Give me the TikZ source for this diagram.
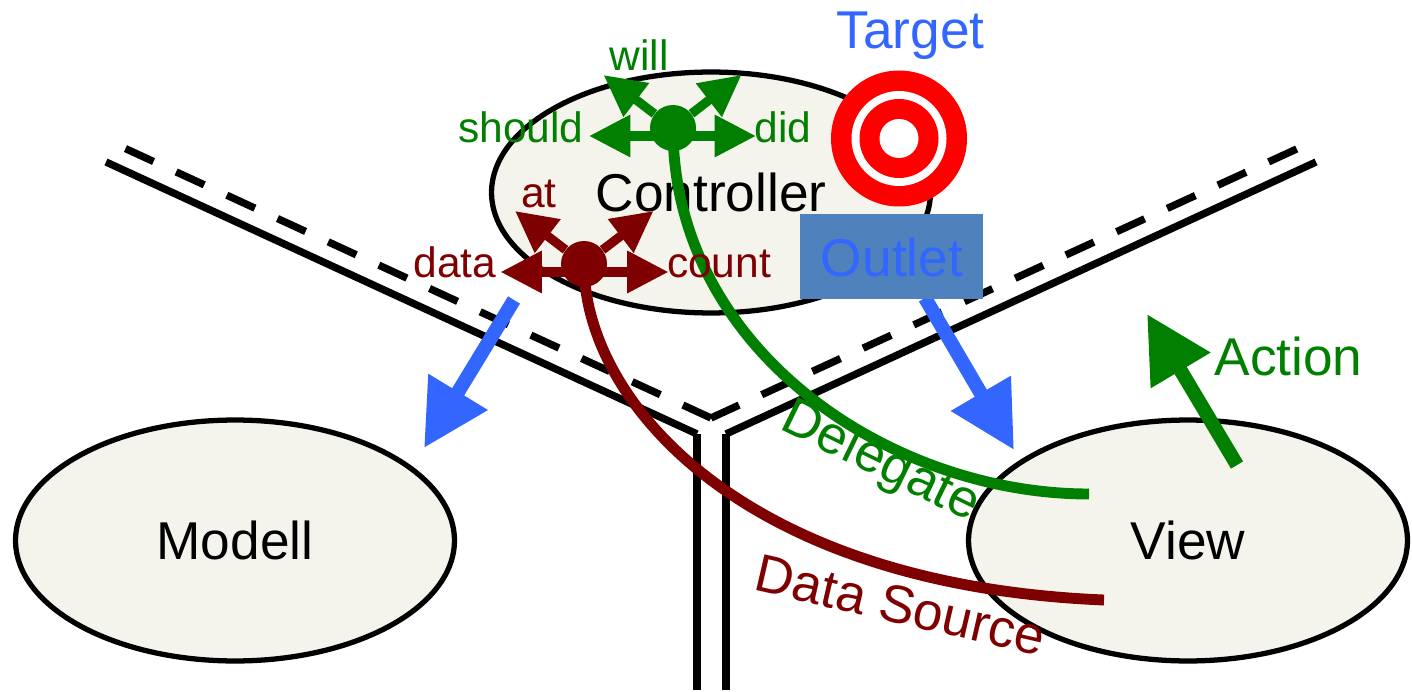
\documentclass[tikz,border=0pt]{standalone}
\usepackage{fontspec}
\setmainfont{Liberation Sans}
\usetikzlibrary{arrows.meta,shapes.geometric}

\definecolor{blobfill}{HTML}{F4F4EC}
\definecolor{mvcgreen}{HTML}{007F00}
\definecolor{mvcred}{HTML}{7F0000}
\definecolor{mvcblue}{HTML}{3366FF}
\definecolor{outletfill}{HTML}{4F81BD}

\tikzset{
  blob/.style={ellipse,draw=black,fill=blobfill,line width=3pt,inner sep=0pt,
    minimum width=8.78cm,minimum height=4.82cm,text=black,font=\fontsize{30.3}{36}\selectfont},
  wall/.style={black,line width=4.2pt},
  walldash/.style={black,line width=4.2pt,dash pattern=on 17.6pt off 14.15pt},
  hub/.style={circle,inner sep=0pt,minimum size=0.92cm},
  small/.style={anchor=base,font=\fontsize{24.2}{28}\selectfont},
  big/.style={anchor=base,font=\fontsize{30.3}{36}\selectfont},
  feeler/.style={line width=5.2pt,-{Triangle[length=23.5pt,width=22.8pt]}},
  bigarrow/.style={line width=8pt,-{Triangle[length=37.4pt,width=37.4pt]}},
  wire/.style={line width=6.2pt}
}

\begin{document}
\begin{tikzpicture}[x=0.02cm,y=-0.02cm]
\useasboundingbox (0,0) rectangle (1412,692);

\coordinate (corner) at (711,418);
\coordinate (wallwest) at (106,162);
\coordinate (walleast) at (1316,162);
\coordinate (dashwest) at (122,147);
\coordinate (dasheast) at (1301,147);
\coordinate (kneeleft) at (697,434);
\coordinate (kneeright) at (726,434);
\coordinate (footleft) at (697,690);
\coordinate (footright) at (726,690);

% walls between the three parts
\draw[wall] (wallwest)--(kneeleft);
\draw[wall] (walleast)--(kneeright);
\draw[wall] (kneeleft)--(footleft);
\draw[wall] (kneeright)--(footright);
\draw[walldash] (corner)--(dashwest);
\draw[walldash] (corner)--(dasheast);

\node[blob] (controller) at (711,192.5) {Controller};
\node[blob] (modell) at (235,540.5) {Modell};
\node[blob] (view) at (1188,540.5) {View};

% target rings
\coordinate (target) at (899,138.5);
\fill[red] (target) circle (68);
\fill[white] (target) circle (47.5);
\fill[red] (target) circle (39.5);
\fill[white] (target) circle (19.5);
\node[big,text=mvcblue] (targetlabel) at (910.5,49) {Target};

\coordinate (outletstart) at (925,298);
\coordinate (outlettip) at (1014,450);
\coordinate (modellstart) at (514,300);
\coordinate (modelltip) at (424,448);
\draw[bigarrow,mvcblue] (outletstart)--(outlettip);
\draw[bigarrow,mvcblue] (modellstart)--(modelltip);

\node[fill=outletfill,minimum width=3.66cm,minimum height=1.7cm,inner sep=0pt] (outlet) at (891.5,256.5) {};
\node[big,text=mvcblue] (outletlabel) at (892,276) {Outlet};

% delegate and its four arrows
\node[hub,fill=mvcgreen] (dg) at (673,128) {};
\coordinate (dgview) at (1089,494);
\draw[wire,mvcgreen] (dg.center) .. controls (673,350) and (890,494) .. (dgview);
\coordinate (dgwill) at (603.5,75);
\coordinate (dgother) at (741.5,75);
\coordinate (dgshould) at (589,136);
\coordinate (dgdid) at (756,136);
\draw[feeler,mvcgreen] (dg)--(dgwill);
\draw[feeler,mvcgreen] (dg)--(dgother);
\draw[feeler,mvcgreen] (dg |- dgshould)--(dgshould);
\draw[feeler,mvcgreen] (dg |- dgdid)--(dgdid);

% data source and its four arrows
\node[hub,fill=mvcred] (ds) at (584,264) {};
\coordinate (dsview) at (1104,600);
\draw[wire,mvcred] (ds.center) .. controls (584,400) and (740,585) .. (dsview);
\coordinate (dsat) at (515,211);
\coordinate (dsother) at (653.5,211);
\coordinate (dsdata) at (500.5,272);
\coordinate (dscount) at (668.5,272);
\draw[feeler,mvcred] (ds)--(dsat);
\draw[feeler,mvcred] (ds)--(dsother);
\draw[feeler,mvcred] (ds |- dsdata)--(dsdata);
\draw[feeler,mvcred] (ds |- dscount)--(dscount);

\node[small,text=mvcgreen] (will) at (639,71) {will};
\node[small,text=mvcgreen] (should) at (521,143) {should};
\node[small,text=mvcgreen] (did) at (783,143) {did};
\node[small,text=mvcred] (at) at (539,208) {at};
\node[small,text=mvcred] (data) at (455,278) {data};
\node[small,text=mvcred] (count) at (719,278) {count};

% action
\coordinate (actionstart) at (1237,465);
\coordinate (actiontip) at (1147,314);
\draw[bigarrow,mvcgreen] (actionstart)--(actiontip);
\node[big,text=mvcgreen] (action) at (1288.5,375) {Action};

\node[big,text=mvcgreen,rotate=-26] (delegate) at (874,475) {Delegate};
\node[big,text=mvcred,rotate=-13] (datasource) at (896.5,623) {Data Source};

\end{tikzpicture}
\end{document}
